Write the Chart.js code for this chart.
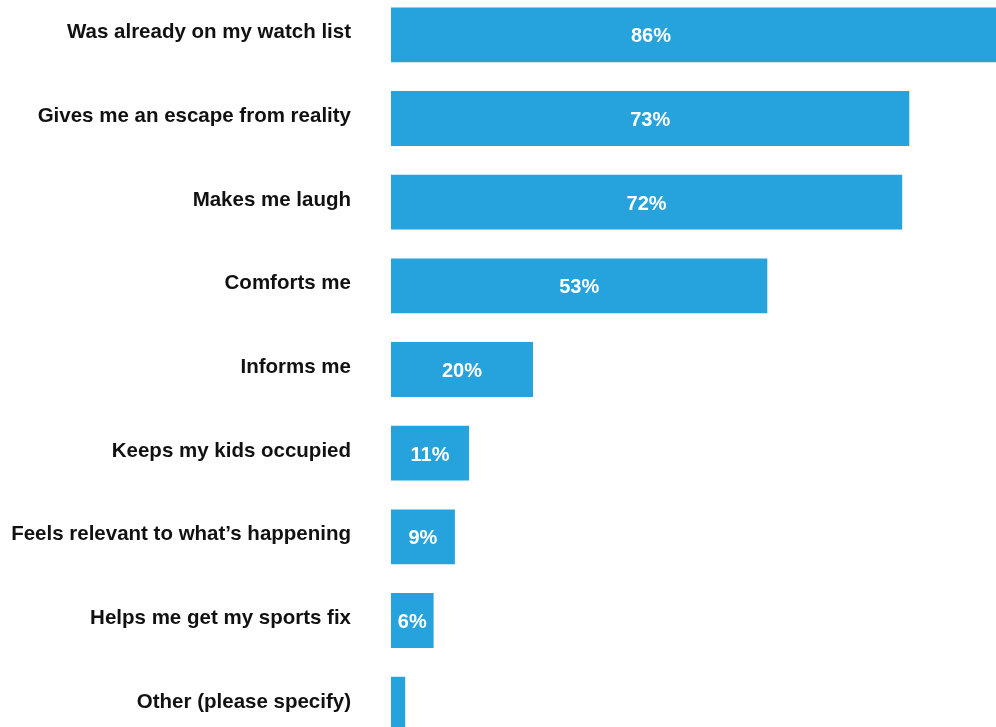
<!DOCTYPE html>
<html>
<head>
<meta charset="utf-8">
<script src="https://cdn.jsdelivr.net/npm/chart.js@4/dist/chart.umd.min.js"></script>
<style>
  html, body { margin: 0; padding: 0; background: #ffffff; overflow: hidden; width: 996px; height: 727px; }
  #wrap { position: absolute; left: 0; top: -7px; width: 1101px; height: 753px; }
</style>
</head>
<body>
<div id="wrap"><canvas id="c"></canvas></div>
<script>
const categories = [
  "Was already on my watch list",
  "Gives me an escape from reality",
  "Makes me laugh",
  "Comforts me",
  "Informs me",
  "Keeps my kids occupied",
  "Feels relevant to what\u2019s happening",
  "Helps me get my sports fix",
  "Other (please specify)"
];
const values = [86, 73, 72, 53, 20, 11, 9, 6, 2];
const valueLabels = ["86%", "73%", "72%", "53%", "20%", "11%", "9%", "6%", ""];

const BAR_COLOR = "#26a2dc";

const valueLabelPlugin = {
  id: "valueLabels",
  afterDatasetsDraw(chart) {
    const ctx = chart.ctx;
    const meta = chart.getDatasetMeta(0);
    const visibleRight = 651; // labels of very long bars are held in the visible region
    ctx.save();
    ctx.fillStyle = "#ffffff";
    ctx.font = "bold 20px 'Liberation Sans', Arial, sans-serif";
    ctx.textAlign = "center";
    ctx.textBaseline = "middle";
    meta.data.forEach((bar, i) => {
      const txt = valueLabels[i];
      if (!txt) return;
      let cx = (bar.base + bar.x) / 2;
      if (cx > visibleRight) cx = visibleRight;
      ctx.fillText(txt, cx, bar.y + 2);
    });
    ctx.restore();
  }
};

new Chart(document.getElementById("c"), {
  type: "bar",
  data: {
    labels: categories,
    datasets: [{
      data: values,
      backgroundColor: BAR_COLOR,
      borderWidth: 0,
      barPercentage: 0.655,
      categoryPercentage: 1.0
    }]
  },
  options: {
    indexAxis: "y",
    responsive: true,
    maintainAspectRatio: false,
    animation: false,
    layout: { padding: 0 },
    plugins: {
      legend: { display: false },
      tooltip: { enabled: false }
    },
    scales: {
      x: {
        display: false,
        min: 0,
        max: 100
      },
      y: {
        grid: { display: false, drawTicks: false },
        border: { display: false },
        ticks: {
          color: "#111111",
          padding: 40,
          labelOffset: -2,
          font: { family: "'Liberation Sans', Arial, sans-serif", size: 20.5, weight: "bold" }
        },
        afterFit(scale) {
          scale.width = 391;
          scale.paddingTop = 0;
          scale.paddingBottom = 0;
        }
      }
    }
  },
  plugins: [valueLabelPlugin]
});
</script>
</body>
</html>
